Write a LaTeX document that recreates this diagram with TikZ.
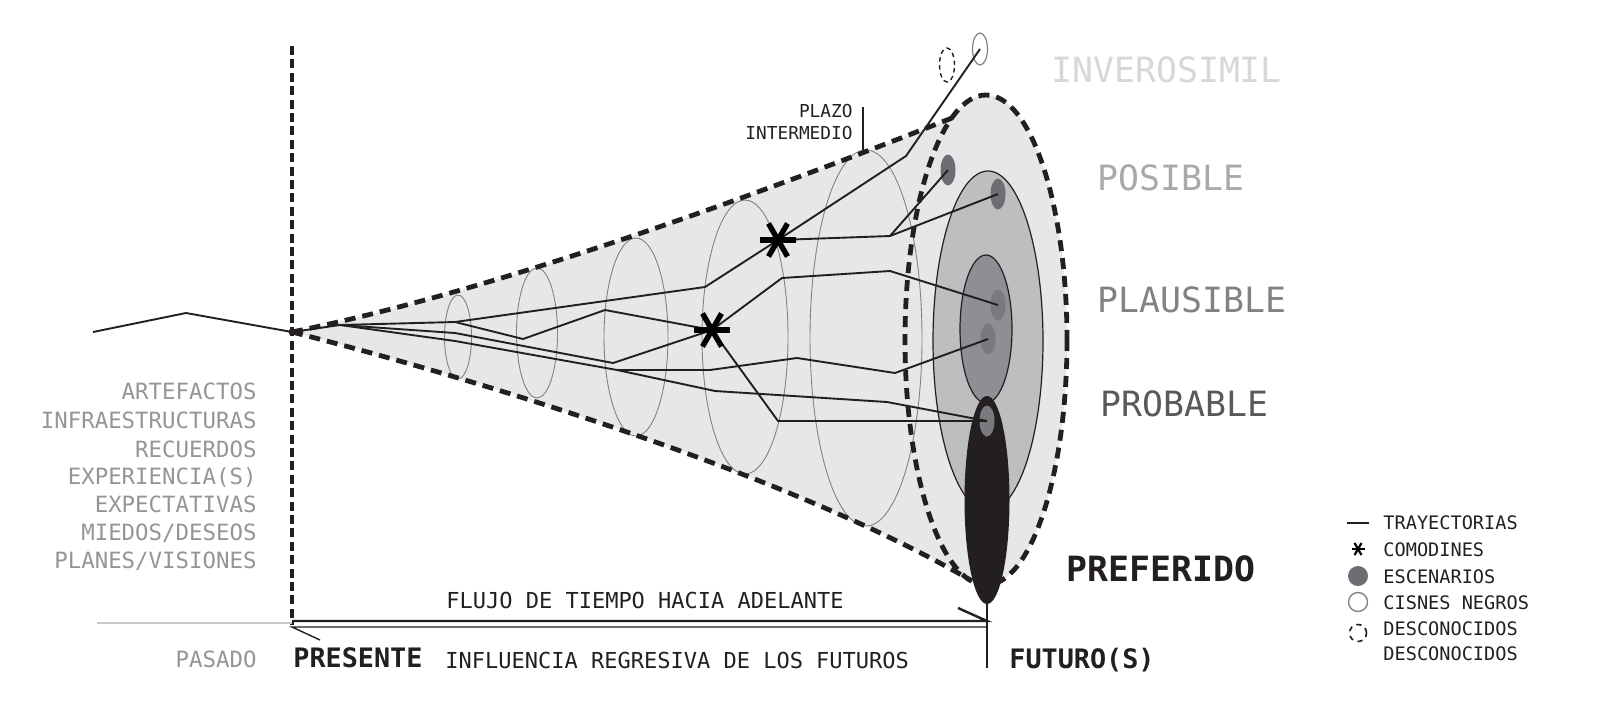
\documentclass[tikz,border=0pt]{standalone}
\usepackage{fontspec}
\setmainfont{DejaVu Sans Mono}
\usetikzlibrary{shapes.geometric}
\definecolor{conegray}{HTML}{E6E7E8}
\definecolor{midgray}{HTML}{BCBEC0}
\definecolor{innergray}{HTML}{8D8F92}
\definecolor{dotgray}{HTML}{6D6E71}
\definecolor{dotgrayb}{HTML}{797A7D}
\definecolor{inkblack}{HTML}{231F20}
\definecolor{ringgray}{HTML}{808285}
\definecolor{listgray}{HTML}{939598}
\definecolor{invgray}{HTML}{D6D7D8}
\definecolor{posgray}{HTML}{A7A9AC}
\definecolor{plagray}{HTML}{808285}
\definecolor{probgray}{HTML}{58595B}
\definecolor{pastline}{HTML}{C7C8CA}
\tikzset{
  asterisk/.pic={
    \draw[line width=2.7pt,draw=black] (-18,0) -- (18,0);
    \draw[line width=2.7pt,draw=black] (-9.5,-16.5) -- (9.5,16.5);
    \draw[line width=2.7pt,draw=black] (9.5,-16.5) -- (-9.5,16.5);
  },
  smallasterisk/.pic={
    \draw[line width=1.1pt,draw=black] (-6.5,0) -- (6.5,0);
    \draw[line width=1.1pt,draw=black] (-3.5,-6) -- (3.5,6);
    \draw[line width=1.1pt,draw=black] (3.5,-6) -- (-3.5,6);
  }
}
\begin{document}
\begin{tikzpicture}[x=0.5pt,y=-0.5pt,
  traj/.style={draw=inkblack,line width=0.95pt,line join=round},
  xsec/.style={draw=ringgray,line width=0.45pt},
  conedash/.style={draw=inkblack,line width=2.4pt,dash pattern=on 5.5pt off 3.5pt},
  vdash/.style={draw=inkblack,line width=1.7pt,dash pattern=on 4.5pt off 2.2pt},
  scen/.style={ellipse,fill=dotgray,inner sep=0pt,minimum width=7.5pt,minimum height=15.5pt},
  listlbl/.style={font=\fontsize{11.2}{13}\selectfont,text=listgray,inner sep=0pt,anchor=base east},
  midlbl/.style={font=\fontsize{11}{13}\selectfont,text=inkblack,inner sep=0pt},
  boldlbl/.style={font=\fontsize{13.4}{15}\selectfont\bfseries,text=inkblack,inner sep=0pt,anchor=base west},
  biglbl/.style={font=\fontsize{17.4}{20}\selectfont,inner sep=0pt,anchor=base west},
  smalllbl/.style={font=\fontsize{8.9}{10}\selectfont,text=inkblack,inner sep=0pt,anchor=base east},
  leglbl/.style={font=\fontsize{9.3}{11}\selectfont,text=inkblack,inner sep=0pt,anchor=base west}
]
\useasboundingbox (0,0) rectangle (1600,718);

% ---------- cone body ----------
\coordinate (apex) at (292,332);
\coordinate (uend) at (952,118);
\coordinate (lend) at (972,581);
\coordinate (mouth) at (986,340);
\fill[conegray] (mouth) ellipse[x radius=81,y radius=245];
\fill[conegray] (apex) .. controls (500,290) and (770,190) .. (uend) -- (mouth) -- (lend)
   .. controls (800,480) and (500,385) .. (apex) -- cycle;

% cross sections
\draw[xsec] (458,337) ellipse[x radius=13.5,y radius=42];
\draw[xsec] (537,333) ellipse[x radius=20.5,y radius=65];
\draw[xsec] (636,337) ellipse[x radius=32,y radius=99];
\draw[xsec] (745,337) ellipse[x radius=43,y radius=137];
\draw[xsec] (866,338) ellipse[x radius=56,y radius=188];

% dashed outline
\draw[conedash] (mouth) ellipse[x radius=81,y radius=245];
\draw[conedash] (apex) .. controls (500,290) and (770,190) .. (uend);
\draw[conedash] (apex) .. controls (500,385) and (800,480) .. (lend);

% nested future regions
\draw[draw=inkblack,line width=0.6pt,fill=midgray] (988,341) ellipse[x radius=55,y radius=170];
\draw[draw=inkblack,line width=0.6pt,fill=innergray] (986,329) ellipse[x radius=26,y radius=74];
\fill[inkblack] (987,500) ellipse[x radius=22.5,y radius=104];

% scenarios
\node[scen] (d1) at (948,170) {};
\node[scen] (d2) at (998,194) {};
\node[scen,fill=dotgrayb] (d3) at (998,305) {};
\node[scen,fill=dotgrayb] (d4) at (988,339) {};
\node[scen,fill=dotgrayb] (d5) at (987,421) {};

% black swan and unknown unknown
\node[ellipse,draw=ringgray,line width=0.6pt,inner sep=0pt,minimum width=7.5pt,minimum height=16pt] (cisne) at (980,49) {};
\node[ellipse,draw=inkblack,line width=0.7pt,dash pattern=on 2.2pt off 1.8pt,inner sep=0pt,minimum width=7.5pt,minimum height=17pt] (desc) at (947,65) {};

% ---------- time axis ----------
\coordinate (vtop) at (292,46);
\coordinate (vbot) at (292,625);
\draw[vdash] (vtop) -- (vbot);
\coordinate (pastL) at (97,623);
\coordinate (pastR) at (292,623);
\draw[draw=pastline,line width=1pt] (pastL) -- (pastR);
\coordinate (presA) at (292,621);
\coordinate (futA) at (987,621);
\draw[draw=inkblack,line width=1.2pt] (presA) -- (futA) -- ++(-29,-13);
\coordinate (presB) at (292,627);
\coordinate (futB) at (987,627);
\draw[draw=inkblack,line width=0.7pt] (futB) -- (presB) -- ++(28,13);
\coordinate (futtop) at (987,604);
\coordinate (futbot) at (987,668);
\draw[draw=inkblack,line width=0.8pt] (futtop) -- (futbot);

% ---------- trajectories ----------
\coordinate (p0) at (93,332);
\coordinate (p1) at (186,313);
\coordinate (b0) at (340,325);
\coordinate (k1) at (455,322);
\coordinate (k2) at (705,287);
\coordinate (s2) at (778,240);
\coordinate (k3) at (906,156);
\coordinate (k4) at (523,339);
\coordinate (k5) at (605,310);
\coordinate (s1) at (712,330);
\coordinate (k6) at (455,333);
\coordinate (k7) at (613,363);
\coordinate (k8) at (455,341);
\coordinate (k9) at (617,370);
\coordinate (k10) at (710,370);
\coordinate (k11) at (797,358);
\coordinate (k12) at (895,373);
\coordinate (k13) at (715,391);
\coordinate (k14) at (887,402);
\coordinate (k15) at (782,278);
\coordinate (k16) at (890,271);
\coordinate (k17) at (778,421);
\coordinate (k18) at (890,236);

\draw[traj] (p0) -- (p1) -- (apex);
\fill[inkblack] (apex) circle[radius=3.5];
\draw[traj] (apex) -- (b0) -- (k1) -- (k2) -- (s2) -- (k3) -- (cisne.center);
\draw[traj] (k1) -- (k4) -- (k5) -- (s1);
\draw[traj] (b0) -- (k6) -- (k7) -- (s1);
\draw[traj] (b0) -- (k8) -- (k9) -- (k10) -- (k11) -- (k12) -- (d4.center);
\draw[traj] (k9) -- (k13) -- (k14) -- (d5.center);
\draw[traj] (s1) -- (k15) -- (k16) -- (d3.center);
\draw[traj] (s1) -- (k17) -- (d5.center);
\draw[traj] (s2) -- (k18) -- (d1.center);
\draw[traj] (k18) -- (d2.center);

\pic at (s1) {asterisk};
\pic at (s2) {asterisk};

% ---------- labels ----------
\coordinate (plzA) at (863,107);
\coordinate (plzB) at (863,150);
\draw[draw=inkblack,line width=0.6pt] (plzA) -- (plzB);
\node[smalllbl] (plazo) at (853,117) {PLAZO};
\node[smalllbl] (interm) at (853,139) {INTERMEDIO};

\node[listlbl] (l1) at (257,399) {ARTEFACTOS};
\node[listlbl] (l2) at (257,428) {INFRAESTRUCTURAS};
\node[listlbl] (l3) at (257,457) {RECUERDOS};
\node[listlbl] (l4) at (257,484) {EXPERIENCIA(S)};
\node[listlbl] (l5) at (257,512) {EXPECTATIVAS};
\node[listlbl] (l6) at (257,540) {MIEDOS/DESEOS};
\node[listlbl] (l7) at (257,568) {PLANES/VISIONES};

\node[midlbl,anchor=base] (flujo) at (645,608) {FLUJO DE TIEMPO HACIA ADELANTE};
\node[listlbl] (pasado) at (257,667) {PASADO};
\node[boldlbl] (presente) at (293,667) {PRESENTE};
\node[midlbl,anchor=base west] (influ) at (445,668) {INFLUENCIA REGRESIVA DE LOS FUTUROS};
\node[boldlbl] (futuro) at (1009,668) {FUTURO(S)};

\node[biglbl,text=invgray] (inv) at (1051,82) {INVEROSIMIL};
\node[biglbl,text=posgray] (pos) at (1097,190) {POSIBLE};
\node[biglbl,text=plagray] (pla) at (1097,312) {PLAUSIBLE};
\node[biglbl,text=probgray] (prob) at (1100,416) {PROBABLE};
\node[biglbl,text=inkblack,font=\fontsize{17.4}{20}\selectfont\bfseries] (pref) at (1066,581) {PREFERIDO};

% ---------- legend ----------
\coordinate (lgA) at (1347,523);
\coordinate (lgB) at (1369,523);
\draw[draw=inkblack,line width=0.8pt] (lgA) -- (lgB);
\coordinate (lgast) at (1358,549);
\pic at (lgast) {smallasterisk};
\node[circle,fill=dotgray,inner sep=0pt,minimum size=10pt] (lgesc) at (1358,576) {};
\node[circle,draw=ringgray,line width=0.7pt,inner sep=0pt,minimum size=9.5pt] (lgcis) at (1358,602) {};
\node[circle,draw=inkblack,line width=0.8pt,dash pattern=on 2.6pt off 2.3pt,inner sep=0pt,minimum size=8.5pt] (lgdes) at (1358,633) {};
\node[leglbl] (t1) at (1383,529) {TRAYECTORIAS};
\node[leglbl] (t2) at (1383,556) {COMODINES};
\node[leglbl] (t3) at (1383,583) {ESCENARIOS};
\node[leglbl] (t4) at (1383,609) {CISNES NEGROS};
\node[leglbl] (t5) at (1383,635) {DESCONOCIDOS};
\node[leglbl] (t6) at (1383,660) {DESCONOCIDOS};
\end{tikzpicture}
\end{document}
